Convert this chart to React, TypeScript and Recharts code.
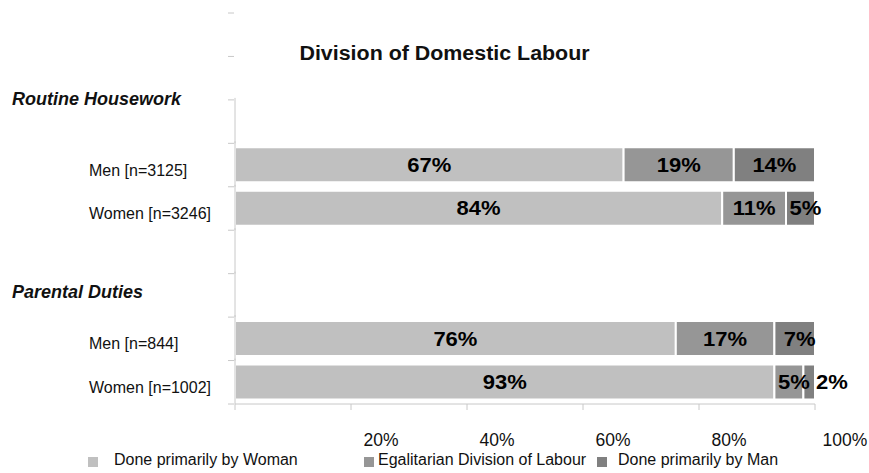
import React from 'react';
import { BarChart, Bar, XAxis, YAxis, LabelList } from 'recharts';

const chartTitle = 'Division of Domestic Labour';
const sectionTitles = ['Routine Housework', 'Parental Duties'];
const categoryIds = ['c0', 'c1', 'c2', 'c3', 'c4', 'c5', 'c6', 'c7', 'c8'];
const categoryLabels = ['', '', '', 'Men [n=3125]', 'Women [n=3246]', '', '', 'Men [n=844]', 'Women [n=1002]'];
const womanShare = [null, null, null, 67, 84, null, null, 76, 93];
const egalitarianShare = [null, null, null, 19, 11, null, null, 17, 5];
const manShare = [null, null, null, 14, 5, null, null, 7, 2];
const seriesNames = ['Done primarily by Woman', 'Egalitarian Division of Labour', 'Done primarily by Man'];
const xTicks = [0, 20, 40, 60, 80, 100];

const colors = ['#c0c0c0', '#969696', '#808080'];
const axisColor = '#c8c8c8';
const FONT = '"Liberation Sans", Arial, Helvetica, sans-serif';

const data = categoryIds.map((id, i) => ({
  id,
  woman: womanShare[i],
  egal: egalitarianShare[i],
  man: manShare[i],
}));

const YTick = (props: any) => {
  const { x, y, payload } = props;
  const off = payload && payload.offset ? payload.offset : 21.7;
  const i = categoryIds.indexOf(payload.value);
  const label = categoryLabels[i];
  return (
    <g>
      <line x1={x - 7} x2={x - 1} y1={y - off} y2={y - off} stroke={axisColor} strokeWidth={1} />
      {i === categoryIds.length - 1 && (
        <line x1={x - 7} x2={x - 1} y1={y + off} y2={y + off} stroke={axisColor} strokeWidth={1} />
      )}
      {i >= 2 && <line x1={x} x2={x} y1={y - off - 2} y2={y + off} stroke={axisColor} strokeWidth={1} />}
      {label ? (
        <text
          x={x - 146}
          y={y + 5}
          textAnchor="start"
          dominantBaseline="central"
          fontSize={16}
          fill="#111"
          fontFamily={FONT}
        >
          {label}
        </text>
      ) : null}
    </g>
  );
};

const XTick = (props: any) => {
  const { x, y, payload } = props;
  return (
    <g>
      <line x1={x} x2={x} y1={y} y2={y + 6} stroke={axisColor} strokeWidth={1} />
      {payload.value > 0 && (
        <text
          x={x + 30}
          y={y + 36}
          textAnchor="middle"
          dominantBaseline="central"
          fontSize={17.5}
          fill="#111"
          fontFamily={FONT}
        >
          {`${payload.value}%`}
        </text>
      )}
    </g>
  );
};

const ValueLabel = (props: any) => {
  const { x, y, width, height, value } = props;
  if (value === null || value === undefined) return null;
  const small = width < 16;
  const tx = small ? x + width + 1 : x + width / 2 + (width < 45 ? 5 : 0);
  return (
    <text
      transform={`translate(${tx}, ${y + height / 2}) scale(1.1, 1)`}
      x={0}
      y={0}
      textAnchor={small ? 'start' : 'middle'}
      dominantBaseline="central"
      fontSize={20}
      fontWeight="bold"
      fill="#000"
      fontFamily={FONT}
    >
      {`${value}%`}
    </text>
  );
};

const legendLayout = [
  { sq: 88, tx: 114 },
  { sq: 364, tx: 378 },
  { sq: 597, tx: 618 },
];

export default function App() {
  return (
    <div style={{ position: 'absolute', left: 0, top: 0, width: 869, height: 473, background: '#fff', fontFamily: FONT }}>
      <BarChart
        width={869}
        height={473}
        data={data}
        layout="vertical"
        margin={{ top: 13, right: 54, bottom: 19, left: 10 }}
        barSize={35}
      >
        <XAxis
          type="number"
          domain={[0, 100]}
          ticks={xTicks}
          interval={0}
          height={50}
          tickSize={0}
          tickMargin={0}
          tickLine={false}
          axisLine={{ stroke: axisColor }}
          tick={<XTick />}
        />
        <YAxis
          type="category"
          dataKey="id"
          width={225}
          interval={0}
          tickSize={0}
          tickMargin={0}
          tickLine={false}
          axisLine={false}
          tick={<YTick />}
        />
        <Bar dataKey="woman" stackId="a" fill={colors[0]} stroke="#fff" strokeWidth={2} isAnimationActive={false}>
          <LabelList dataKey="woman" content={<ValueLabel />} />
        </Bar>
        <Bar dataKey="egal" stackId="a" fill={colors[1]} stroke="#fff" strokeWidth={2} isAnimationActive={false}>
          <LabelList dataKey="egal" content={<ValueLabel />} />
        </Bar>
        <Bar dataKey="man" stackId="a" fill={colors[2]} stroke="#fff" strokeWidth={2} isAnimationActive={false}>
          <LabelList dataKey="man" content={<ValueLabel />} />
        </Bar>
      </BarChart>
      <div
        style={{
          position: 'absolute',
          left: 0,
          width: 889,
          top: 42,
          textAlign: 'center',
          fontSize: 20,
          fontWeight: 'bold',
          color: '#111',
          transform: 'scaleX(1.07)',
          transformOrigin: '444px 0',
        }}
      >
        {chartTitle}
      </div>
      <div style={{ position: 'absolute', left: 12, top: 89, fontSize: 18, fontWeight: 'bold', fontStyle: 'italic', color: '#111', whiteSpace: 'nowrap' }}>
        {sectionTitles[0]}
      </div>
      <div style={{ position: 'absolute', left: 12, top: 282, fontSize: 18, fontWeight: 'bold', fontStyle: 'italic', color: '#111', whiteSpace: 'nowrap' }}>
        {sectionTitles[1]}
      </div>
      {seriesNames.map((name, i) => (
        <React.Fragment key={name}>
          <div style={{ position: 'absolute', left: legendLayout[i].sq, top: 457, width: 10, height: 10, background: colors[i] }} />
          <div style={{ position: 'absolute', left: legendLayout[i].tx, top: 451, fontSize: 16, color: '#111', whiteSpace: 'nowrap' }}>
            {name}
          </div>
        </React.Fragment>
      ))}
    </div>
  );
}
